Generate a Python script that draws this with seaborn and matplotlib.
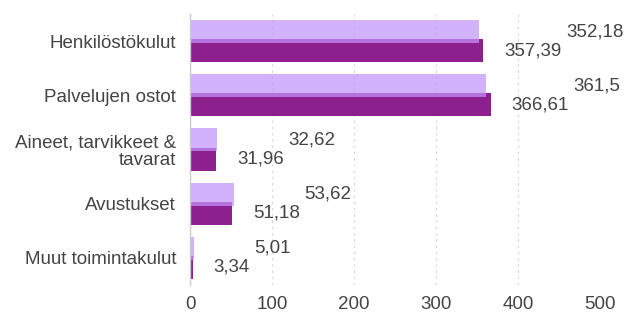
import pandas as pd
import numpy as np
import matplotlib
matplotlib.use("Agg")
import matplotlib.pyplot as plt
import seaborn as sns

categories = ["Henkilöstökulut", "Palvelujen ostot", "Aineet, tarvikkeet &\ntavarat",
              "Avustukset", "Muut toimintakulut"]
light_values = [352.18, 361.5, 32.62, 53.62, 5.01]
dark_values = [357.39, 366.61, 31.96, 51.18, 3.34]
series_names = ["Talousarvio", "Toteuma"]
x_ticks = [0, 100, 200, 300, 400, 500]

light_color = "#c394fb"
dark_color = "#8e1f8e"
text_color = "#444444"

df = pd.DataFrame({
    "kategoria": categories * 2,
    "arvo": light_values + dark_values,
    "sarja": [series_names[0]] * len(categories) + [series_names[1]] * len(categories),
})

sns.set_style("white")
plt.rcParams["font.family"] = ["Liberation Sans", "DejaVu Sans"]

fig = plt.figure(figsize=(6.34, 3.16), dpi=100)
ax = fig.add_axes([0.2997, 0.098, 0.6467, 0.8577])

sns.barplot(data=df, x="arvo", y="kategoria", hue="sarja", hue_order=series_names,
            order=categories, orient="h", dodge=True, width=0.704, gap=-0.207,
            palette=[light_color, dark_color], saturation=1, legend=False,
            linewidth=0, ax=ax)

# light bars sit on top, slightly transparent
for p in ax.containers[0]:
    p.set_alpha(0.72)
    p.set_zorder(3)
for p in ax.containers[1]:
    p.set_zorder(2)

ax.set_xlim(0, 500)
ax.set_ylim(len(categories) - 0.5, -0.5)
ax.set_xticks(x_ticks)
ax.set_xlabel("")
ax.set_ylabel("")

ax.xaxis.grid(True, linestyle=(0, (2, 3)), color="#d9d9d9", linewidth=0.9)
ax.set_axisbelow(True)
for side in ["top", "right", "bottom"]:
    ax.spines[side].set_visible(False)
ax.spines["left"].set_color("#cccccc")
ax.spines["left"].set_linewidth(1.0)
ax.spines["left"].set_zorder(4)

ax.set_yticks(np.arange(len(categories) + 1) - 0.5, minor=True)
ax.tick_params(axis="y", which="minor", length=4, color="#cccccc", width=1, direction="out")
ax.tick_params(axis="y", which="major", length=0, pad=10, labelsize=13.5, labelcolor=text_color)
ax.tick_params(axis="x", length=0, pad=8, labelsize=13.5, labelcolor=text_color)
for lbl in ax.get_yticklabels():
    lbl.set_linespacing(1.05)


def fmt(v):
    return str(v).replace(".", ",")


for lp, dp, lv, dv in zip(ax.containers[0], ax.containers[1], light_values, dark_values):
    dy = dp.get_y() + dp.get_height() / 2
    ly = lp.get_y() + lp.get_height() / 2
    dark_txt = ax.annotate(fmt(dv), xy=(dv, dy), xytext=(15, 0), textcoords="offset points",
                           va="center", ha="left", fontsize=13.5, color=text_color,
                           annotation_clip=False)
    ax.annotate(fmt(lv), xy=(1, ly), xycoords=(dark_txt, "data"), xytext=(3.5, 0),
                textcoords="offset points", va="center", ha="left", fontsize=13.5,
                color=text_color, annotation_clip=False)

fig.savefig("out.png", dpi=100)
